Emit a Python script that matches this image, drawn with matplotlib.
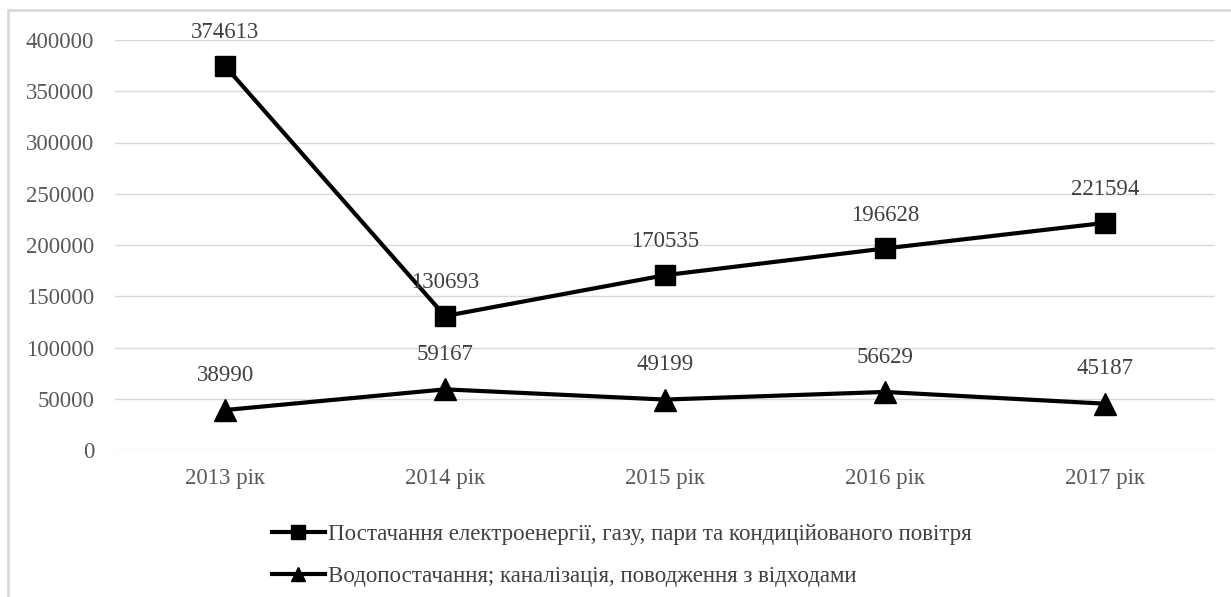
import matplotlib
matplotlib.use("Agg")
import matplotlib.pyplot as plt
from matplotlib.patches import Rectangle

years = ["2013 рік", "2014 рік", "2015 рік", "2016 рік", "2017 рік"]
energy = [374613, 130693, 170535, 196628, 221594]
water = [38990, 59167, 49199, 56629, 45187]
energy_label = "Постачання електроенергії, газу, пари та кондиційованого повітря"
water_label = "Водопостачання; каналізація, поводження з відходами"
yticks = [0, 50000, 100000, 150000, 200000, 250000, 300000, 350000, 400000]

FS = 16.5
plt.rcParams["font.family"] = ["Liberation Serif", "DejaVu Serif"]

fig = plt.figure(figsize=(12.31, 5.97), dpi=100)
ax = fig.add_axes([115 / 1231, 1 - 450 / 597, 1100 / 1231, 410 / 597])

x = list(range(len(years)))
ax.plot(x, energy, color="black", lw=3, marker="s", markersize=15,
        markeredgewidth=1, label=energy_label, zorder=3)
ax.plot(x, water, color="black", lw=3, marker="^", markersize=16,
        markeredgewidth=1, label=water_label, zorder=3)

for xi, v in zip(x, energy):
    ax.annotate(str(v), (xi, v), xytext=(0, 24), textcoords="offset points",
                ha="center", va="center", fontsize=FS, color="#404040")
for xi, v in zip(x, water):
    ax.annotate(str(v), (xi, v), xytext=(0, 25), textcoords="offset points",
                ha="center", va="center", fontsize=FS, color="#404040")

ax.set_xlim(-0.5, len(years) - 0.5)
ax.set_ylim(0, 400000)
ax.set_yticks(yticks)
ax.set_yticklabels([str(t) for t in yticks])
ax.set_xticks(x)
ax.set_xticklabels(years)
ax.tick_params(axis="y", length=0, pad=15, labelsize=FS, labelcolor="#595959")
ax.tick_params(axis="x", length=0, pad=13, labelsize=FS, labelcolor="#595959")
ax.grid(axis="y", color="#d9d9d9", lw=1)
ax.set_axisbelow(True)
for s in ax.spines.values():
    s.set_visible(False)

fig.legend(loc="upper left", bbox_to_anchor=(272 / 1231, 1 - 524 / 597),
           frameon=False, fontsize=FS, borderpad=0, borderaxespad=0,
           handlelength=2.3, handletextpad=0.15, labelspacing=0.92,
           markerscale=0.65, labelcolor="#404040")

# light outer border of the chart area
fig.patches.append(Rectangle((8 / 1231, -0.1), 1.1, 1.1 - 10 / 597,
                             transform=fig.transFigure, fill=False,
                             edgecolor="#d9d9d9", lw=2))

fig.savefig("out.png", dpi=100)
